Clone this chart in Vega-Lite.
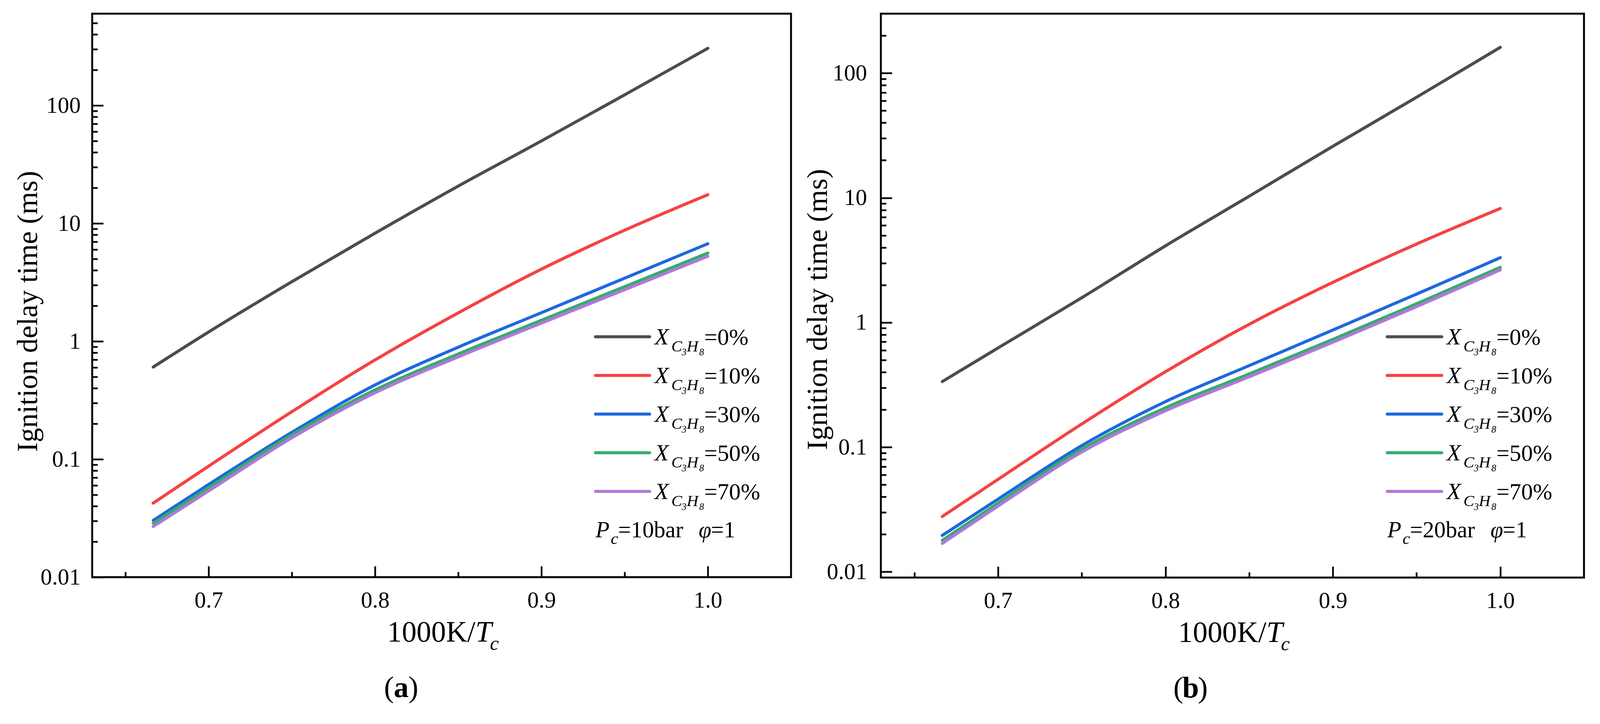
{
  "$schema": "https://vega.github.io/schema/vega-lite/v6.json",
  "description": "Ignition delay time vs 1000K/Tc for propane blends at 10 bar and 20 bar.",
  "background": "white",
  "padding": {"left": 32, "top": 32, "right": 40, "bottom": 20},
  "bounds": "flush",
  "spacing": 230,
  "config": {
    "font": "Liberation Serif",
    "view": {"stroke": "black", "strokeWidth": 4.9},
    "text": {"color": "black", "clip": false},
    "axis": {
      "domain": false,
      "grid": false,
      "tickColor": "black",
      "tickWidth": 4.4,
      "labelColor": "black",
      "labelFont": "Liberation Serif",
      "labelFontSize": 58.7,
      "labelOverlap": false,
      "labelFlush": false,
      "labelBound": false,
      "titleColor": "black",
      "titleFont": "Liberation Serif",
      "titleFontWeight": "normal",
      "titleFontSize": 74.3
    }
  },
  "datasets": {
    "p10": [
      {"s": "0%", "x": 0.6667, "t": 0.605}, {"s": "0%", "x": 0.7, "t": 1.2}, {"s": "0%", "x": 0.75, "t": 3.2}, {"s": "0%", "x": 0.8, "t": 8.25},
      {"s": "0%", "x": 0.85, "t": 20.7}, {"s": "0%", "x": 0.9, "t": 50.0}, {"s": "0%", "x": 0.95, "t": 123}, {"s": "0%", "x": 1.0, "t": 305},
      {"s": "10%", "x": 0.6667, "t": 0.0425}, {"s": "10%", "x": 0.7, "t": 0.0874}, {"s": "10%", "x": 0.75, "t": 0.253}, {"s": "10%", "x": 0.8, "t": 0.695},
      {"s": "10%", "x": 0.85, "t": 1.742}, {"s": "10%", "x": 0.9, "t": 4.09}, {"s": "10%", "x": 0.95, "t": 8.75}, {"s": "10%", "x": 1.0, "t": 17.5},
      {"s": "30%", "x": 0.6667, "t": 0.0303}, {"s": "30%", "x": 0.7, "t": 0.0611}, {"s": "30%", "x": 0.75, "t": 0.169}, {"s": "30%", "x": 0.8, "t": 0.4266},
      {"s": "30%", "x": 0.85, "t": 0.891}, {"s": "30%", "x": 0.9, "t": 1.748}, {"s": "30%", "x": 0.95, "t": 3.43}, {"s": "30%", "x": 1.0, "t": 6.72},
      {"s": "50%", "x": 0.6667, "t": 0.0286}, {"s": "50%", "x": 0.7, "t": 0.0574}, {"s": "50%", "x": 0.75, "t": 0.161}, {"s": "50%", "x": 0.8, "t": 0.387},
      {"s": "50%", "x": 0.85, "t": 0.78}, {"s": "50%", "x": 0.9, "t": 1.508}, {"s": "50%", "x": 0.95, "t": 2.907}, {"s": "50%", "x": 1.0, "t": 5.6},
      {"s": "70%", "x": 0.6667, "t": 0.0269}, {"s": "70%", "x": 0.7, "t": 0.0539}, {"s": "70%", "x": 0.75, "t": 0.152}, {"s": "70%", "x": 0.8, "t": 0.366},
      {"s": "70%", "x": 0.85, "t": 0.738}, {"s": "70%", "x": 0.9, "t": 1.426}, {"s": "70%", "x": 0.95, "t": 2.74}, {"s": "70%", "x": 1.0, "t": 5.26}
    ],
    "p20": [
      {"s": "0%", "x": 0.6667, "t": 0.336}, {"s": "0%", "x": 0.7, "t": 0.625}, {"s": "0%", "x": 0.75, "t": 1.58}, {"s": "0%", "x": 0.8, "t": 4.12},
      {"s": "0%", "x": 0.85, "t": 10.3}, {"s": "0%", "x": 0.9, "t": 25.9}, {"s": "0%", "x": 0.95, "t": 64.1}, {"s": "0%", "x": 1.0, "t": 161},
      {"s": "10%", "x": 0.6667, "t": 0.0278}, {"s": "10%", "x": 0.7, "t": 0.0552}, {"s": "10%", "x": 0.75, "t": 0.1535}, {"s": "10%", "x": 0.8, "t": 0.403},
      {"s": "10%", "x": 0.85, "t": 0.967}, {"s": "10%", "x": 0.9, "t": 2.1}, {"s": "10%", "x": 0.95, "t": 4.26}, {"s": "10%", "x": 1.0, "t": 8.22},
      {"s": "30%", "x": 0.6667, "t": 0.0196}, {"s": "30%", "x": 0.7, "t": 0.0383}, {"s": "30%", "x": 0.75, "t": 0.103}, {"s": "30%", "x": 0.8, "t": 0.232},
      {"s": "30%", "x": 0.85, "t": 0.451}, {"s": "30%", "x": 0.9, "t": 0.87}, {"s": "30%", "x": 0.95, "t": 1.69}, {"s": "30%", "x": 1.0, "t": 3.31},
      {"s": "50%", "x": 0.6667, "t": 0.0179}, {"s": "50%", "x": 0.7, "t": 0.0356}, {"s": "50%", "x": 0.75, "t": 0.0964}, {"s": "50%", "x": 0.8, "t": 0.207},
      {"s": "50%", "x": 0.85, "t": 0.3866}, {"s": "50%", "x": 0.9, "t": 0.732}, {"s": "50%", "x": 0.95, "t": 1.413}, {"s": "50%", "x": 1.0, "t": 2.77},
      {"s": "70%", "x": 0.6667, "t": 0.0169}, {"s": "70%", "x": 0.7, "t": 0.0337}, {"s": "70%", "x": 0.75, "t": 0.0914}, {"s": "70%", "x": 0.8, "t": 0.196},
      {"s": "70%", "x": 0.85, "t": 0.3666}, {"s": "70%", "x": 0.9, "t": 0.694}, {"s": "70%", "x": 0.95, "t": 1.34}, {"s": "70%", "x": 1.0, "t": 2.64}
    ],
    "keys": [
      {"s": "0%", "lab": "=0%"}, {"s": "10%", "lab": "=10%"}, {"s": "30%", "lab": "=30%"}, {"s": "50%", "lab": "=50%"}, {"s": "70%", "lab": "=70%"}
    ]
  },
  "hconcat": [
    {
      "width": 1789,
      "height": 1443,
      "resolve": {"scale": {"y": "independent"}},
      "layer": [
        {
          "resolve": {"axis": {"x": "independent", "y": "independent"}},
          "layer": [
            {
              "data": {"name": "p10"},
              "mark": {"type": "line", "strokeWidth": 7.8, "strokeCap": "round", "interpolate": "monotone"},
              "encoding": {
                "x": {
                  "field": "x",
                  "type": "quantitative",
                  "scale": {"domain": [0.63, 1.05], "nice": false, "zero": false},
                  "axis": {"orient": "bottom", "title": null, "values": [0.7, 0.8, 0.9, 1.0], "format": ".1f", "offset": -28.4, "tickSize": 28.4, "labelPadding": 31}
                },
                "y": {
                  "field": "t",
                  "type": "quantitative",
                  "scale": {"type": "log", "domain": [0.01, 600], "nice": false},
                  "axis": {
                    "orient": "left",
                    "values": [0.01, 0.1, 1, 10, 100],
                    "format": "~g",
                    "offset": -28.4,
                    "tickSize": 28.4,
                    "labelPadding": 30,
                    "title": "Ignition delay time (ms)",
                    "titleX": -170,
                    "titleY": 762,
                    "titleAlign": "center",
                    "titleBaseline": "alphabetic"
                  }
                },
                "color": {
                  "field": "s",
                  "type": "nominal",
                  "scale": {"domain": ["0%", "10%", "30%", "50%", "70%"], "range": ["#4d4d4d", "#f54242", "#1e68de", "#35ac6b", "#b078dc"]},
                  "legend": null
                }
              }
            },
            {
              "data": {"values": [{}]},
              "mark": {"type": "text", "text": "1000K/", "fontSize": 75.3, "align": "right", "baseline": "alphabetic", "dy": 165.3},
              "encoding": {
                "x": {"datum": 0.8603, "axis": {"orient": "bottom", "title": null, "values": [0.65, 0.75, 0.85, 0.95], "labels": false, "offset": -13.7, "tickSize": 13.7}},
                "y": {"datum": 0.01, "axis": {"orient": "left", "title": null, "labels": false, "offset": -13.7, "tickSize": 13.7,
                  "values": [0.02, 0.03, 0.04, 0.05, 0.06, 0.07, 0.08, 0.09, 0.2, 0.3, 0.4, 0.5, 0.6, 0.7, 0.8, 0.9, 2, 3, 4, 5, 6, 7, 8, 9, 20, 30, 40, 50, 60, 70, 80, 90, 200, 300, 400, 500]}}
              }
            },
            {
              "data": {"values": [{}]},
              "mark": {"type": "text", "text": "T", "fontSize": 75.3, "fontStyle": "italic", "align": "left", "baseline": "alphabetic", "dy": 165.3},
              "encoding": {"x": {"datum": 0.8603, "axis": null}, "y": {"datum": 0.01, "axis": null}}
            },
            {
              "data": {"values": [{}]},
              "mark": {"type": "text", "text": "c", "fontSize": 50.9, "fontStyle": "italic", "align": "left", "baseline": "alphabetic", "dx": 37.2, "dy": 185.8},
              "encoding": {"x": {"datum": 0.8603, "axis": null}, "y": {"datum": 0.01, "axis": null}}
            },
            {
              "data": {"values": [{}]},
              "mark": {"type": "text", "text": "(", "fontSize": 76.3, "align": "right", "baseline": "alphabetic", "dx": -18.6, "dy": 307.1},
              "encoding": {"x": {"datum": 0.8157, "axis": null}, "y": {"datum": 0.01, "axis": null}}
            },
            {
              "data": {"values": [{}]},
              "mark": {"type": "text", "text": "a", "fontSize": 76.3, "fontWeight": "bold", "align": "center", "baseline": "alphabetic", "dy": 307.1},
              "encoding": {"x": {"datum": 0.8157, "axis": null}, "y": {"datum": 0.01, "axis": null}}
            },
            {
              "data": {"values": [{}]},
              "mark": {"type": "text", "text": ")", "fontSize": 76.3, "align": "left", "baseline": "alphabetic", "dx": 18.6, "dy": 307.1},
              "encoding": {"x": {"datum": 0.8157, "axis": null}, "y": {"datum": 0.01, "axis": null}}
            }
          ]
        },
        {
          "data": {"name": "keys"},
          "encoding": {
            "y": {
              "field": "s",
              "type": "ordinal",
              "scale": {"type": "point", "domain": ["0%", "10%", "30%", "50%", "70%", "note"], "range": [827.4, 1322.3], "padding": 0},
              "axis": null
            }
          },
          "layer": [
            {
              "mark": {"type": "rule", "strokeWidth": 7.8, "strokeCap": "round"},
              "encoding": {
                "x": {"datum": 0.9325, "axis": null},
                "x2": {"datum": 0.965},
                "color": {
                  "field": "s",
                  "type": "nominal",
                  "scale": {"domain": ["0%", "10%", "30%", "50%", "70%"], "range": ["#4d4d4d", "#f54242", "#1e68de", "#35ac6b", "#b078dc"]},
                  "legend": null
                }
              }
            },
            {"mark": {"type": "text", "text": "X", "fontSize": 59.7, "fontStyle": "italic", "align": "left", "baseline": "alphabetic", "dy": 19.6}, "encoding": {"x": {"datum": 0.968, "axis": null}}},
            {"mark": {"type": "text", "text": "C", "fontSize": 41.1, "fontStyle": "italic", "align": "left", "baseline": "alphabetic", "dx": 43, "dy": 37.2}, "encoding": {"x": {"datum": 0.968, "axis": null}}},
            {"mark": {"type": "text", "text": "3", "fontSize": 24.5, "fontStyle": "italic", "align": "left", "baseline": "alphabetic", "dx": 69.4, "dy": 47.9}, "encoding": {"x": {"datum": 0.968, "axis": null}}},
            {"mark": {"type": "text", "text": "H", "fontSize": 41.1, "fontStyle": "italic", "align": "left", "baseline": "alphabetic", "dx": 82.2, "dy": 37.2}, "encoding": {"x": {"datum": 0.968, "axis": null}}},
            {"mark": {"type": "text", "text": "8", "fontSize": 24.5, "fontStyle": "italic", "align": "left", "baseline": "alphabetic", "dx": 114.4, "dy": 47.9}, "encoding": {"x": {"datum": 0.968, "axis": null}}},
            {"mark": {"type": "text", "fontSize": 59.7, "align": "left", "baseline": "alphabetic", "dx": 127.1, "dy": 20.5}, "encoding": {"x": {"datum": 0.968, "axis": null}, "text": {"field": "lab"}}},
            {"data": {"values": [{"s": "note"}]}, "mark": {"type": "text", "text": "P", "fontSize": 58.7, "fontStyle": "italic", "align": "left", "baseline": "alphabetic", "dy": 18.6}, "encoding": {"x": {"datum": 0.9325, "axis": null}}},
            {"data": {"values": [{"s": "note"}]}, "mark": {"type": "text", "text": "c", "fontSize": 43, "fontStyle": "italic", "align": "left", "baseline": "alphabetic", "dx": 39.1, "dy": 35.2}, "encoding": {"x": {"datum": 0.9325, "axis": null}}},
            {"data": {"values": [{"s": "note"}]}, "mark": {"type": "text", "text": "=10bar", "fontSize": 58.7, "align": "left", "baseline": "alphabetic", "dx": 57.7, "dy": 18.6}, "encoding": {"x": {"datum": 0.9325, "axis": null}}},
            {"data": {"values": [{"s": "note"}]}, "mark": {"type": "text", "text": "φ", "fontSize": 58.7, "fontStyle": "italic", "align": "left", "baseline": "alphabetic", "dx": 264, "dy": 18.6}, "encoding": {"x": {"datum": 0.9325, "axis": null}}},
            {"data": {"values": [{"s": "note"}]}, "mark": {"type": "text", "text": "=1", "fontSize": 58.7, "align": "left", "baseline": "alphabetic", "dx": 295.4, "dy": 18.6}, "encoding": {"x": {"datum": 0.9325, "axis": null}}}
          ]
        }
      ]
    },
    {
      "width": 1800,
      "height": 1444,
      "resolve": {"scale": {"y": "independent"}},
      "layer": [
        {
          "resolve": {"axis": {"x": "independent", "y": "independent"}},
          "layer": [
            {
              "data": {"name": "p20"},
              "mark": {"type": "line", "strokeWidth": 7.8, "strokeCap": "round", "interpolate": "monotone"},
              "encoding": {
                "x": {
                  "field": "x",
                  "type": "quantitative",
                  "scale": {"domain": [0.63, 1.05], "nice": false, "zero": false},
                  "axis": {"orient": "bottom", "title": null, "values": [0.7, 0.8, 0.9, 1.0], "format": ".1f", "offset": -28.4, "tickSize": 28.4, "labelPadding": 31}
                },
                "y": {
                  "field": "t",
                  "type": "quantitative",
                  "scale": {"type": "log", "domain": [0.009, 300], "nice": false},
                  "axis": {
                    "orient": "left",
                    "values": [0.01, 0.1, 1, 10, 100],
                    "format": "~g",
                    "offset": -28.4,
                    "tickSize": 28.4,
                    "labelPadding": 36,
                    "title": "Ignition delay time (ms)",
                    "titleX": -167,
                    "titleY": 757,
                    "titleAlign": "center",
                    "titleBaseline": "alphabetic"
                  }
                },
                "color": {
                  "field": "s",
                  "type": "nominal",
                  "scale": {"domain": ["0%", "10%", "30%", "50%", "70%"], "range": ["#4d4d4d", "#f54242", "#1e68de", "#35ac6b", "#b078dc"]},
                  "legend": null
                }
              }
            },
            {
              "data": {"values": [{}]},
              "mark": {"type": "text", "text": "1000K/", "fontSize": 75.3, "align": "right", "baseline": "alphabetic", "dy": 165.3},
              "encoding": {
                "x": {"datum": 0.8603, "axis": {"orient": "bottom", "title": null, "values": [0.65, 0.75, 0.85, 0.95], "labels": false, "offset": -13.7, "tickSize": 13.7}},
                "y": {"datum": 0.009, "axis": {"orient": "left", "title": null, "labels": false, "offset": -13.7, "tickSize": 13.7,
                  "values": [0.02, 0.03, 0.04, 0.05, 0.06, 0.07, 0.08, 0.09, 0.2, 0.3, 0.4, 0.5, 0.6, 0.7, 0.8, 0.9, 2, 3, 4, 5, 6, 7, 8, 9, 20, 30, 40, 50, 60, 70, 80, 90, 200]}}
              }
            },
            {
              "data": {"values": [{}]},
              "mark": {"type": "text", "text": "T", "fontSize": 75.3, "fontStyle": "italic", "align": "left", "baseline": "alphabetic", "dy": 165.3},
              "encoding": {"x": {"datum": 0.8603, "axis": null}, "y": {"datum": 0.009, "axis": null}}
            },
            {
              "data": {"values": [{}]},
              "mark": {"type": "text", "text": "c", "fontSize": 50.9, "fontStyle": "italic", "align": "left", "baseline": "alphabetic", "dx": 37.2, "dy": 185.8},
              "encoding": {"x": {"datum": 0.8603, "axis": null}, "y": {"datum": 0.009, "axis": null}}
            },
            {
              "data": {"values": [{}]},
              "mark": {"type": "text", "text": "(", "fontSize": 76.3, "align": "right", "baseline": "alphabetic", "dx": -18.6, "dy": 307.1},
              "encoding": {"x": {"datum": 0.815, "axis": null}, "y": {"datum": 0.009, "axis": null}}
            },
            {
              "data": {"values": [{}]},
              "mark": {"type": "text", "text": "b", "fontSize": 76.3, "fontWeight": "bold", "align": "center", "baseline": "alphabetic", "dy": 307.1},
              "encoding": {"x": {"datum": 0.815, "axis": null}, "y": {"datum": 0.009, "axis": null}}
            },
            {
              "data": {"values": [{}]},
              "mark": {"type": "text", "text": ")", "fontSize": 76.3, "align": "left", "baseline": "alphabetic", "dx": 18.6, "dy": 307.1},
              "encoding": {"x": {"datum": 0.815, "axis": null}, "y": {"datum": 0.009, "axis": null}}
            }
          ]
        },
        {
          "data": {"name": "keys"},
          "encoding": {
            "y": {
              "field": "s",
              "type": "ordinal",
              "scale": {"type": "point", "domain": ["0%", "10%", "30%", "50%", "70%", "note"], "range": [827.4, 1322.3], "padding": 0},
              "axis": null
            }
          },
          "layer": [
            {
              "mark": {"type": "rule", "strokeWidth": 7.8, "strokeCap": "round"},
              "encoding": {
                "x": {"datum": 0.9325, "axis": null},
                "x2": {"datum": 0.965},
                "color": {
                  "field": "s",
                  "type": "nominal",
                  "scale": {"domain": ["0%", "10%", "30%", "50%", "70%"], "range": ["#4d4d4d", "#f54242", "#1e68de", "#35ac6b", "#b078dc"]},
                  "legend": null
                }
              }
            },
            {"mark": {"type": "text", "text": "X", "fontSize": 59.7, "fontStyle": "italic", "align": "left", "baseline": "alphabetic", "dy": 19.6}, "encoding": {"x": {"datum": 0.968, "axis": null}}},
            {"mark": {"type": "text", "text": "C", "fontSize": 41.1, "fontStyle": "italic", "align": "left", "baseline": "alphabetic", "dx": 43, "dy": 37.2}, "encoding": {"x": {"datum": 0.968, "axis": null}}},
            {"mark": {"type": "text", "text": "3", "fontSize": 24.5, "fontStyle": "italic", "align": "left", "baseline": "alphabetic", "dx": 69.4, "dy": 47.9}, "encoding": {"x": {"datum": 0.968, "axis": null}}},
            {"mark": {"type": "text", "text": "H", "fontSize": 41.1, "fontStyle": "italic", "align": "left", "baseline": "alphabetic", "dx": 82.2, "dy": 37.2}, "encoding": {"x": {"datum": 0.968, "axis": null}}},
            {"mark": {"type": "text", "text": "8", "fontSize": 24.5, "fontStyle": "italic", "align": "left", "baseline": "alphabetic", "dx": 114.4, "dy": 47.9}, "encoding": {"x": {"datum": 0.968, "axis": null}}},
            {"mark": {"type": "text", "fontSize": 59.7, "align": "left", "baseline": "alphabetic", "dx": 127.1, "dy": 20.5}, "encoding": {"x": {"datum": 0.968, "axis": null}, "text": {"field": "lab"}}},
            {"data": {"values": [{"s": "note"}]}, "mark": {"type": "text", "text": "P", "fontSize": 58.7, "fontStyle": "italic", "align": "left", "baseline": "alphabetic", "dy": 18.6}, "encoding": {"x": {"datum": 0.9325, "axis": null}}},
            {"data": {"values": [{"s": "note"}]}, "mark": {"type": "text", "text": "c", "fontSize": 43, "fontStyle": "italic", "align": "left", "baseline": "alphabetic", "dx": 39.1, "dy": 35.2}, "encoding": {"x": {"datum": 0.9325, "axis": null}}},
            {"data": {"values": [{"s": "note"}]}, "mark": {"type": "text", "text": "=20bar", "fontSize": 58.7, "align": "left", "baseline": "alphabetic", "dx": 57.7, "dy": 18.6}, "encoding": {"x": {"datum": 0.9325, "axis": null}}},
            {"data": {"values": [{"s": "note"}]}, "mark": {"type": "text", "text": "φ", "fontSize": 58.7, "fontStyle": "italic", "align": "left", "baseline": "alphabetic", "dx": 264, "dy": 18.6}, "encoding": {"x": {"datum": 0.9325, "axis": null}}},
            {"data": {"values": [{"s": "note"}]}, "mark": {"type": "text", "text": "=1", "fontSize": 58.7, "align": "left", "baseline": "alphabetic", "dx": 295.4, "dy": 18.6}, "encoding": {"x": {"datum": 0.9325, "axis": null}}}
          ]
        }
      ]
    }
  ]
}
